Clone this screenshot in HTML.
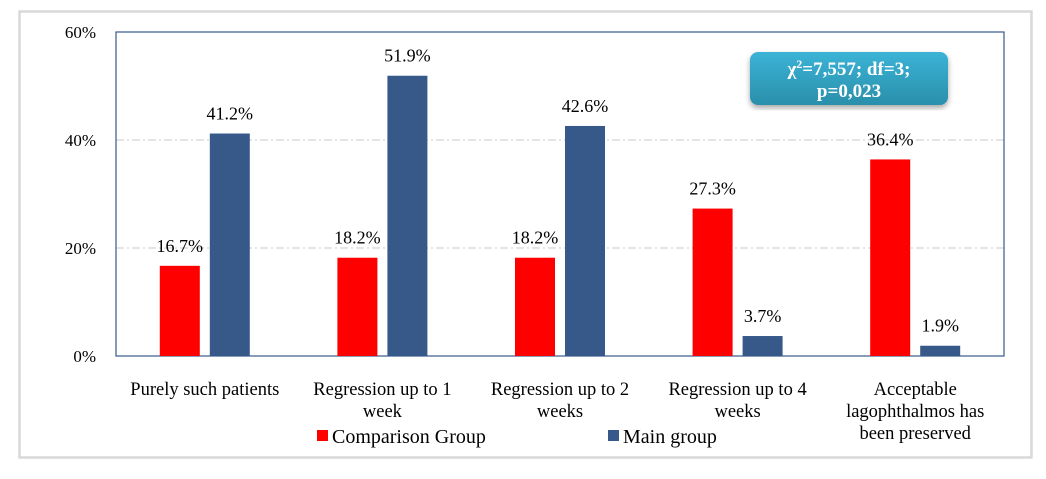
<!DOCTYPE html>
<html><head><meta charset="utf-8"><style>
body{margin:0;background:#fff;width:1046px;height:474px;overflow:hidden}
svg text{font-family:"Liberation Serif",serif;fill:#000}
</style></head><body>
<svg width="1046" height="474">
<defs><linearGradient id="g" x1="0" y1="0" x2="0" y2="1"><stop offset="0" stop-color="#3bb3d6"/><stop offset="1" stop-color="#2a8fab"/></linearGradient>
<filter id="sh"><feDropShadow dx="0" dy="3" stdDeviation="3" flood-opacity="0.35"/></filter></defs>
<rect x="19.5" y="11.5" width="1012" height="446" fill="#fff" stroke="#d9d9d9" stroke-width="2.5"/>
<g id="grid"></g>
<rect x="116" y="32" width="888" height="324" fill="none" stroke="#36598a" stroke-width="1.2"/>
<g id="bars"></g>
<g id="labels"></g>
<g>
<rect x="750" y="52" width="198" height="53" rx="8" fill="url(#g)" filter="url(#sh)"/>
<text x="849" y="75" text-anchor="middle" style="fill:#fff;font-weight:bold;font-size:19px">χ<tspan dy="-7" font-size="12">2</tspan><tspan dy="7">=7,557; df=3;</tspan></text>
<text x="849" y="97" text-anchor="middle" style="fill:#fff;font-weight:bold;font-size:19px">p=0,023</text>
</g>
<g>
<rect x="317" y="430" width="11" height="11" fill="#ff0000"/>
<text x="332" y="443" font-size="20">Comparison Group</text>
<rect x="608" y="430" width="11" height="11" fill="#36598a"/>
<text x="623" y="443" font-size="20">Main group</text>
</g>
</svg>
<script>
const categories=[["Purely such patients"],["Regression up to 1","week"],["Regression up to 2","weeks"],["Regression up to 4","weeks"],["Acceptable","lagophthalmos has","been preserved"]];
const comparison=[16.7,18.2,18.2,27.3,36.4];
const mainGroup=[41.2,51.9,42.6,3.7,1.9];
const yTicks=[0,20,40,60];
const ns="http://www.w3.org/2000/svg";
const X0=116,W=888,Y0=356,H=324,MAX=60;
const y=v=>Y0-v/MAX*H;
const gw=W/categories.length;
const cx=i=>X0+gw*(i+0.5);
function mk(t,a,p){const e=document.createElementNS(ns,t);for(const k in a)e.setAttribute(k,a[k]);p.appendChild(e);return e;}
const grid=document.getElementById('grid'),bars=document.getElementById('bars'),labels=document.getElementById('labels');
yTicks.forEach(t=>{
 if(t>0&&t<MAX){const l=mk('line',{x1:X0,x2:X0+W,y1:y(t),y2:y(t),stroke:'#c8c8c8','stroke-dasharray':'8,3,2,3'},grid);
 
 }
 const tx=mk('text',{x:96,y:y(t)+6,'text-anchor':'end','font-size':'17'},labels);tx.textContent=t+'%';
 
 
});
categories.forEach((c,i)=>{
 [[comparison,'#ff0000',-45],[mainGroup,'#36598a',5]].forEach(([arr,col,off],s)=>{
  const v=arr[i];
  const r=mk('rect',{x:cx(i)+off,y:y(v),width:40,height:Y0-y(v),fill:col},bars);
  
  
  const t=mk('text',{x:cx(i)+off+20,y:y(v)-14,'text-anchor':'middle','font-size':'18'},labels);t.textContent=v.toFixed(1)+'%';
  
  
 });
 c.forEach((line,j)=>{
  const t=mk('text',{x:cx(i),y:395+j*22,'text-anchor':'middle','font-size':'18.5'},labels);t.textContent=line;
  
  
 });
});
</script>
</body></html>
